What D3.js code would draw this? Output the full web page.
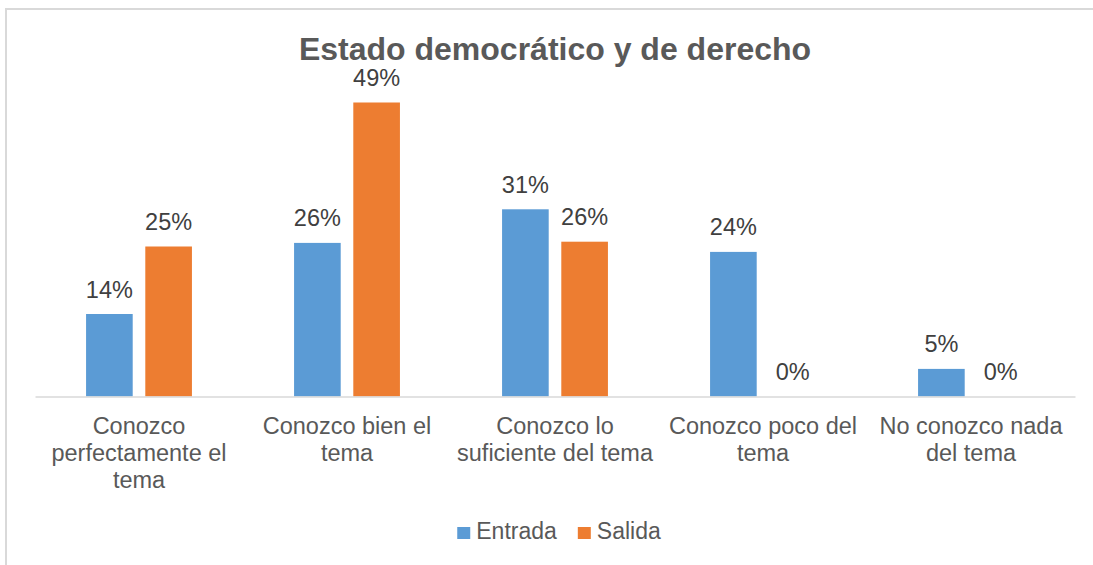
<!DOCTYPE html>
<html>
<head>
<meta charset="utf-8">
<script src="https://cdn.jsdelivr.net/npm/d3@7"></script>
<style>
  body { margin: 0; background: #fff; }
  svg { display: block; font-family: "Liberation Sans", Arial, sans-serif; }
</style>
</head>
<body>
<div id="chart-container"></div>
<script>
// chart data
const categories = [
  "Conozco perfectamente el tema",
  "Conozco bien el tema",
  "Conozco lo suficiente del tema",
  "Conozco poco del tema",
  "No conozco nada del tema",
];
// tick labels as Excel wrapped them
const categoryLines = [
  ["Conozco", "perfectamente el", "tema"],
  ["Conozco bien el", "tema"],
  ["Conozco lo", "suficiente del tema"],
  ["Conozco poco del", "tema"],
  ["No conozco nada", "del tema"],
];
const series = ["Entrada", "Salida"];
const entrada = [0.1375, 0.256, 0.312, 0.241, 0.046];
const salida = [0.25, 0.49, 0.258, 0, 0];
const colors = ["#5B9BD5", "#ED7D31"];
const title = "Estado democrático y de derecho";

const [W, H] = [1093, 565];
const plot = { left: 35, right: 1075, top: 36.5, bottom: 396.5 };

const svg = d3
  .select("#chart-container")
  .append("svg")
  .attr("width", W)
  .attr("height", H);

// outer chart border (runs off the right/bottom edge like the original)
svg
  .append("rect")
  .attr("x", 6)
  .attr("y", 9)
  .attr("width", 1200)
  .attr("height", 700)
  .attr("fill", "none")
  .attr("stroke", "#d9d9d9")
  .attr("stroke-width", 2);

// title
svg
  .append("text")
  .attr("x", 555)
  .attr("y", 60)
  .attr("text-anchor", "middle")
  .attr("font-size", 32)
  .attr("font-weight", "bold")
  .attr("fill", "#595959")
  .text(title);

// scales
const x0 = d3
  .scaleBand()
  .domain(categories)
  .range([plot.left, plot.right]);

// excel style: gap width 219%, overlap -27%
const barW = x0.bandwidth() / (2 + 0.27 + 2.19);
const groupW = barW * 2.27;
const x1 = d3
  .scaleBand()
  .domain(series)
  .range([(x0.bandwidth() - groupW) / 2, (x0.bandwidth() + groupW) / 2])
  .paddingInner(0.27 / 1.27);

const y = d3.scaleLinear().domain([0, 0.6]).range([plot.bottom, plot.top]);

const rows = categories.map((c, i) => ({
  cat: c,
  values: [
    { s: series[0], v: entrada[i] },
    { s: series[1], v: salida[i] },
  ],
}));

const groups = svg
  .selectAll("g.group")
  .data(rows)
  .enter()
  .append("g")
  .attr("class", "group")
  .attr("transform", (d) => `translate(${x0(d.cat)},0)`);

groups
  .selectAll("rect")
  .data((d) => d.values)
  .enter()
  .append("rect")
  .attr("x", (d) => x1(d.s))
  .attr("y", (d) => y(d.v))
  .attr("width", x1.bandwidth())
  .attr("height", (d) => y(0) - y(d.v))
  .attr("fill", (d, i) => colors[i]);

// data labels
groups
  .selectAll("text.label")
  .data((d) => d.values)
  .enter()
  .append("text")
  .attr("class", "label")
  .attr("x", (d) => x1(d.s) + x1.bandwidth() / 2)
  .attr("y", (d) => y(d.v) - 16.5)
  .attr("text-anchor", "middle")
  .attr("font-size", 23.5)
  .attr("fill", "#404040")
  .text((d) => d3.format(".0%")(d.v));

// x axis
const xAxis = d3.axisBottom(x0).tickSize(0).tickFormat("");
const axisG = svg
  .append("g")
  .attr("transform", `translate(0,${plot.bottom})`)
  .call(xAxis);
axisG.select(".domain").attr("stroke", "#d9d9d9").attr("stroke-width", 1.5);

// wrapped category labels
axisG
  .selectAll(".tick")
  .append("text")
  .attr("text-anchor", "middle")
  .attr("font-size", 23.5)
  .attr("fill", "#595959")
  .each(function (d) {
    const lines = categoryLines[categories.indexOf(d)];
    d3.select(this)
      .selectAll("tspan")
      .data(lines)
      .enter()
      .append("tspan")
      .attr("x", 0)
      .attr("y", (l, i) => 37.5 + i * 27)
      .text((l) => l);
  });

// legend
const legend = svg.append("g").attr("id", "legend");
let lx = 0;
series.forEach((s, i) => {
  const item = legend.append("g").attr("transform", `translate(${lx},0)`);
  item
    .append("rect")
    .attr("x", 0)
    .attr("y", 527)
    .attr("width", 13)
    .attr("height", 12)
    .attr("fill", colors[i]);
  const t = item
    .append("text")
    .attr("x", 19)
    .attr("y", 539)
    .attr("font-size", 23)
    .attr("fill", "#595959")
    .text(s);
  lx += 19 + t.node().getComputedTextLength() + 21;
});
const lw = lx - 21;
legend.attr("transform", `translate(${559 - lw / 2},0)`);
</script>
</body>
</html>
